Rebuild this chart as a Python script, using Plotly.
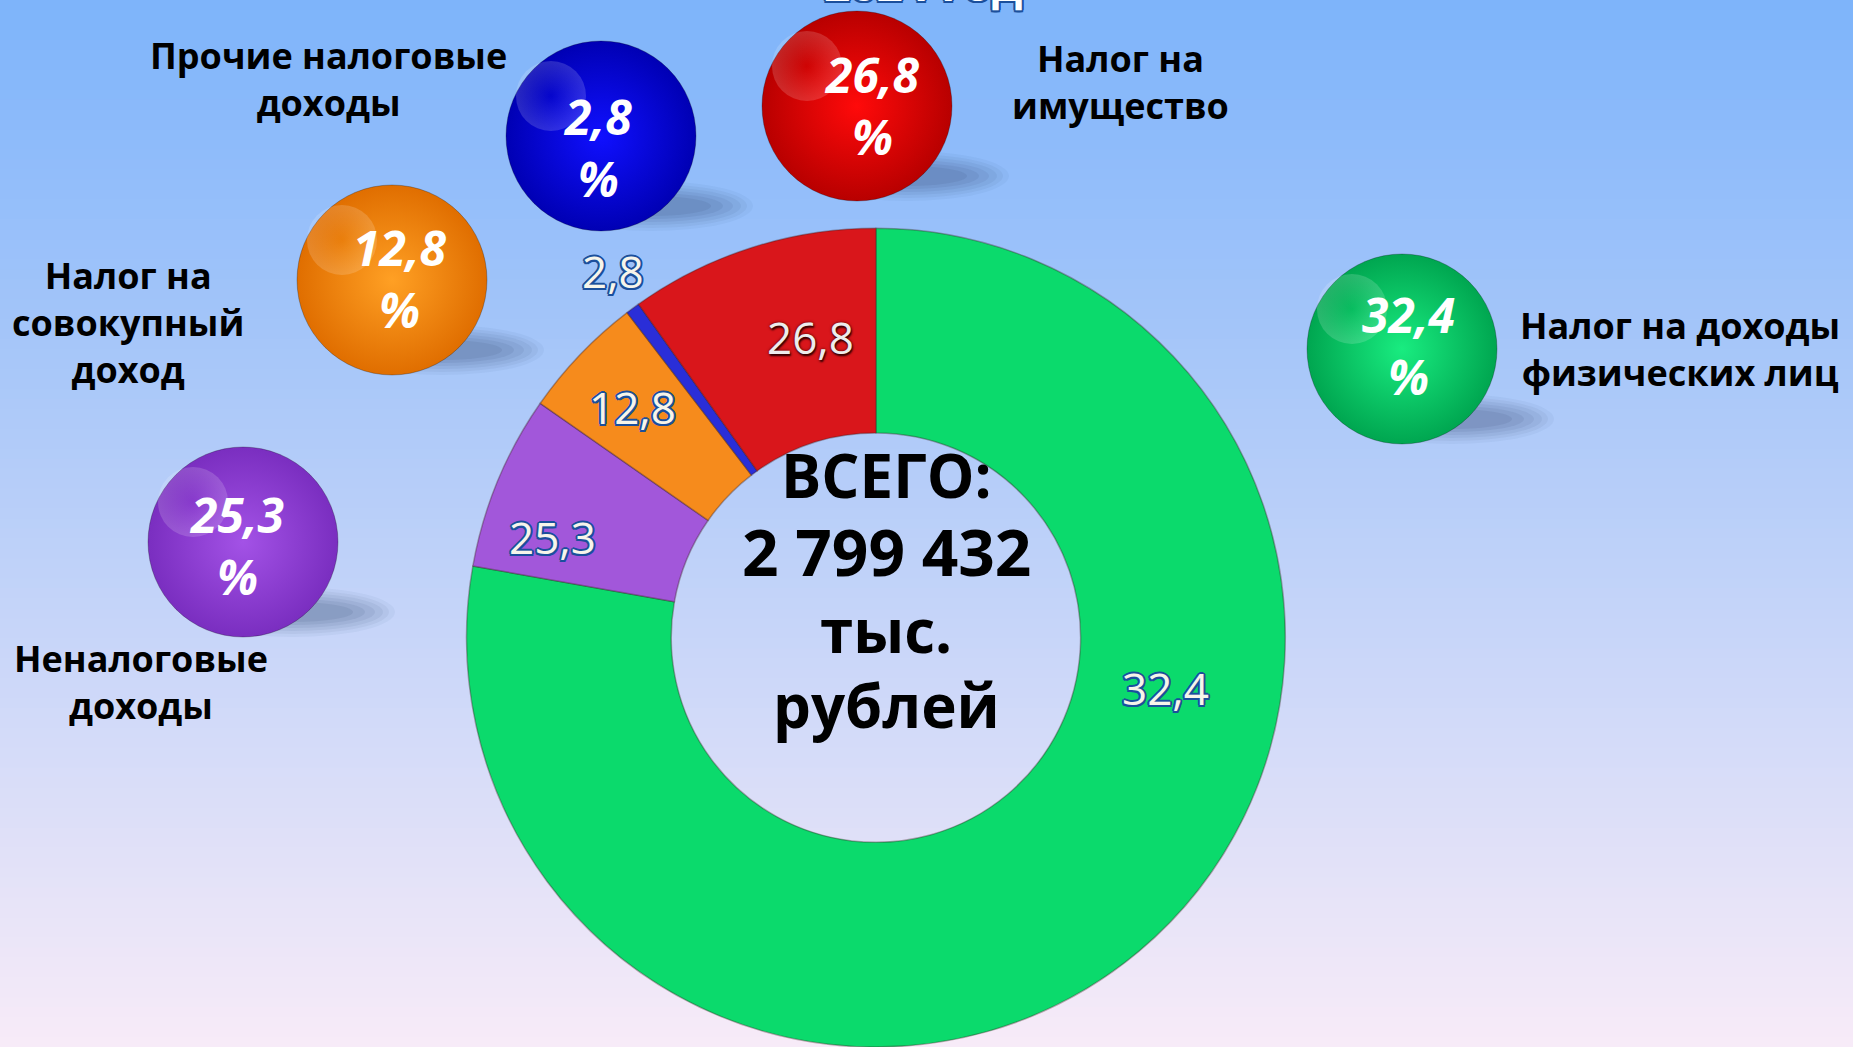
import plotly.graph_objects as go

# ---------------- data ----------------
categories = ["Налог на доходы<br>физических лиц", "Неналоговые<br>доходы",
              "Налог на<br>совокупный<br>доход", "Прочие налоговые<br>доходы",
              "Налог на<br>имущество"]
share_labels = ["32,4", "25,3", "12,8", "2,8", "26,8"]
# angular share of each ring segment as drawn in the picture (percent of the ring)
ring_values = [77.8, 6.9, 4.9, 0.55, 9.85]
total_lines = ["ВСЕГО:", "2 799 432", "тыс.", "рублей"]
year_text = "2024 год"

# ---------------- styles / layout positions ----------------
W, H = 1853, 1047
FONT = "Open Sans"
slice_colors = ["#0BDA6C", "#A257DA", "#F68B1C", "#2A2ED8", "#D9161B"]
ball_center_colors = ["#00A650", "#7A2EC0", "#E06E00", "#0000B4", "#B80000"]
ball_edge_colors = ["#19EC80", "#A352E6", "#FFA024", "#1010FF", "#FF0A0A"]
ball_pos = [(1402, 349), (243, 542), (392, 280), (601, 136), (857, 106)]
ball_text_pos = [(1408, 345), (236, 545), (400, 278), (597, 147), (872, 105)]
cat_label_pos = [(1680, 349), (141, 682), (128, 322), (328, 79), (1120, 82)]
ring_label_pos = [(1165, 688), (552, 537), (632, 407), (613, 271), (810, 337)]
center_text_pos = [(886, 475), (886, 551), (886, 630), (886, 705)]
center_text_sizes = [60, 64, 60, 60]

fig = go.Figure()

# background gradient (light blue -> pale lilac)
top = (126, 180, 250)
bot = (247, 235, 248)
n_bands = 105
shapes = []
for i in range(n_bands):
    t = i / (n_bands - 1)
    c = tuple(round(top[k] + (bot[k] - top[k]) * t) for k in range(3))
    shapes.append(dict(type="rect", xref="paper", yref="paper",
                       x0=0, x1=1, y0=1 - (i + 1) / n_bands - 0.002, y1=1 - i / n_bands,
                       fillcolor="rgb(%d,%d,%d)" % c, line=dict(width=0), layer="below"))

# soft shadows under the balls
for (bx, by) in ball_pos:
    cx, cy = bx + 50, by + 70
    for rx, ry, op in [(102, 25, 0.05), (96, 22, 0.06), (90, 19, 0.07), (82, 16, 0.08),
                       (72, 13, 0.09), (60, 10, 0.10)]:
        shapes.append(dict(type="circle", xref="x", yref="y",
                           x0=cx - rx, x1=cx + rx, y0=cy - ry, y1=cy + ry,
                           fillcolor="rgba(45,70,110,%.2f)" % op,
                           line=dict(width=0), layer="below"))

# donut
fig.add_trace(go.Pie(
    values=ring_values, labels=[c.replace("<br>", " ") for c in categories],
    hole=0.5, sort=False, direction="clockwise", rotation=0,
    marker=dict(colors=slice_colors, line=dict(color="rgba(60,30,30,0.35)", width=1.5)),
    textinfo="none", hoverinfo="skip", showlegend=False,
    domain=dict(x=[0.2227, 0.7227], y=[0.0, 0.782]),
))

# balls
fig.add_trace(go.Scatter(
    x=[p[0] for p in ball_pos], y=[p[1] for p in ball_pos], mode="markers",
    marker=dict(size=190, color=ball_center_colors,
                gradient=dict(type="radial", color=ball_edge_colors),
                line=dict(width=1, color="rgba(0,0,0,0.25)"), opacity=1),
    hoverinfo="skip", showlegend=False,
))
# faint glossy highlight
fig.add_trace(go.Scatter(
    x=[p[0] - 50 for p in ball_pos], y=[p[1] - 40 for p in ball_pos], mode="markers",
    marker=dict(size=70, color="rgba(255,255,255,0.16)",
                gradient=dict(type="radial", color="rgba(255,255,255,0)"),
                line=dict(width=0)),
    hoverinfo="skip", showlegend=False,
))

annotations = []
outline = "#1B4F9C"
outline_shadow = ", ".join("%spx %spx 0 %s" % (dx, dy, outline) for dx, dy in
                           [(2, 0), (-2, 0), (0, 2), (0, -2), (1.5, 1.5), (-1.5, -1.5), (1.5, -1.5), (-1.5, 1.5)])

# ball texts
for lab, (tx, ty) in zip(share_labels, ball_text_pos):
    annotations.append(dict(x=tx, y=ty, xref="x", yref="y", showarrow=False,
                            text=lab + "<br>%",
                            font=dict(family=FONT, size=48, color="white", weight="bold", style="italic")))
# category labels
for cat, (lx, ly) in zip(categories, cat_label_pos):
    annotations.append(dict(x=lx, y=ly, xref="x", yref="y", showarrow=False, text=cat,
                            align="center",
                            font=dict(family=FONT, size=36, color="black", weight="bold")))
# ring value labels
for i, (lab, (rx, ry)) in enumerate(zip(share_labels, ring_label_pos)):
    if i == 4:
        f = dict(family=FONT, size=44, color="#EDEDED",
                 shadow="0 0 3px #4a0000, 1px 2px 2px #2a0000")
    else:
        f = dict(family=FONT, size=44, color="#F7F5EA", shadow=outline_shadow)
    annotations.append(dict(x=rx, y=ry, xref="x", yref="y", showarrow=False, text=lab, font=f))
# center total
for line, (cx, cy), sz in zip(total_lines, center_text_pos, center_text_sizes):
    annotations.append(dict(x=cx, y=cy, xref="x", yref="y", showarrow=False, text=line,
                            font=dict(family=FONT, size=sz, color="black", weight="bold")))
# partially visible title at top
annotations.append(dict(x=923, y=16, xref="x", yref="y", yanchor="bottom", showarrow=False,
                        text=year_text,
                        font=dict(family=FONT, size=46, color="white", weight="bold",
                                  shadow=outline_shadow)))

fig.update_layout(
    width=W, height=H, autosize=False,
    margin=dict(l=0, r=0, t=0, b=0),
    paper_bgcolor="rgb(190,210,248)", plot_bgcolor="rgba(0,0,0,0)",
    xaxis=dict(range=[0, W], visible=False, domain=[0, 1], fixedrange=True),
    yaxis=dict(range=[H, 0], visible=False, domain=[0, 1], fixedrange=True),
    shapes=shapes, annotations=annotations, showlegend=False,
)

fig.write_html("out.html", config={"displayModeBar": False},
               post_script="document.body.style.margin='0px';document.body.style.overflow='hidden';")
